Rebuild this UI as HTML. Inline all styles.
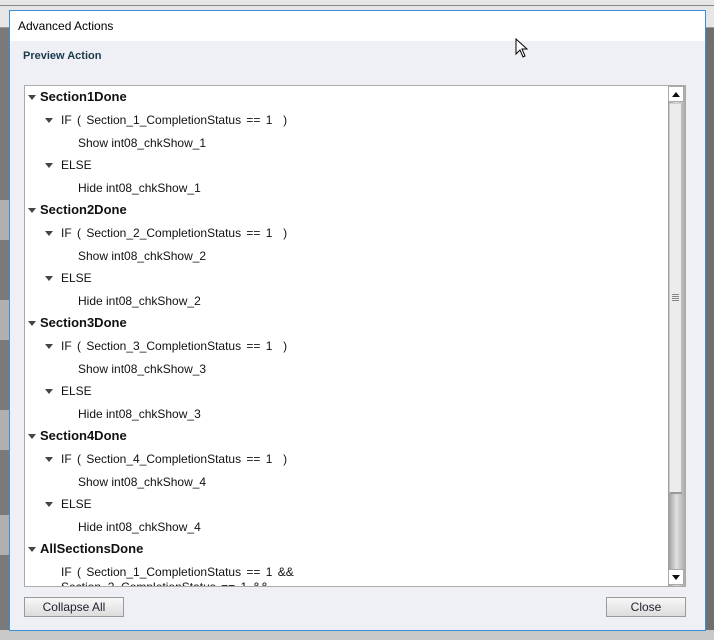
<!DOCTYPE html>
<html><head><style>
*{margin:0;padding:0;box-sizing:border-box}
body{width:714px;height:640px;position:relative;overflow:hidden;background:#8c8c8c;font-family:"Liberation Sans",sans-serif}
.a{position:absolute}
.t{position:absolute;font-size:12px;color:#111;white-space:nowrap;line-height:14px}
.w{word-spacing:2px}
.h{font-weight:bold;font-size:13px}
.tri{position:absolute;width:0;height:0;border-left:4px solid transparent;border-right:4px solid transparent;border-top:5px solid #444}
.btn{position:absolute;background:linear-gradient(#f8f8f8,#dcdcdc);border:1px solid #9a9a9a;font-size:12px;text-align:center;line-height:18px;color:#223}
</style></head><body>
<div class="a" style="left:0;top:0;width:714px;height:28px;background:#e6e6e6;border-bottom:1px solid #999"></div>
<div class="a" style="left:0;top:5px;width:714px;height:1px;background:#888"></div>
<div class="a" style="left:0;top:28px;width:10px;height:612px;background:#7a7a7a"></div>
<div class="a" style="left:0;top:200px;width:10px;height:40px;background:#b0b0b0"></div>
<div class="a" style="left:0;top:300px;width:10px;height:40px;background:#b0b0b0"></div>
<div class="a" style="left:0;top:410px;width:10px;height:40px;background:#b0b0b0"></div>
<div class="a" style="left:0;top:515px;width:10px;height:40px;background:#b0b0b0"></div>
<div class="a" style="left:705px;top:28px;width:9px;height:612px;background:#6f6f6f"></div>
<div class="a" style="left:0;top:630px;width:714px;height:10px;background:#c8c8c8"></div>
<div class="a" style="left:9px;top:10px;width:697px;height:621px;background:#eff0f5;border:1px solid #3a8fd8"></div>
<div class="a" style="left:10px;top:11px;width:695px;height:30px;background:#fff"></div>
<div class="t" style="left:18px;top:19px;font-size:12px;color:#000">Advanced Actions</div>
<div class="t" style="left:23px;top:49px;font-weight:bold;font-size:11px;color:#1a3a4a">Preview Action</div>
<div class="a" style="left:24px;top:85px;width:662px;height:502px;background:#fff;border:1px solid #aaa"></div>
<div class="a" style="left:668px;top:86px;width:17px;height:500px;background:linear-gradient(90deg,#999,#e0e0e0,#aaa)"></div>
<div class="a" style="left:668px;top:86px;width:16px;height:16px;background:#fff;border:1px solid #aaa"></div>
<div class="a" style="left:672px;top:92px;border-left:4px solid transparent;border-right:4px solid transparent;border-bottom:5px solid #111"></div>
<div class="a" style="left:669px;top:103px;width:14px;height:391px;background:#ececec;border:1px solid #ccc;border-right:2px solid #bbb;border-bottom:2px solid #999"></div>
<div class="a" style="left:672px;top:294px;width:7px;height:8px;background:repeating-linear-gradient(#888 0 1px,transparent 1px 2px)"></div>
<div class="a" style="left:668px;top:569px;width:16px;height:16px;background:#fff;border:1px solid #aaa"></div>
<div class="a" style="left:672px;top:575px;border-left:4px solid transparent;border-right:4px solid transparent;border-top:5px solid #111"></div>
<div class="a" style="left:25px;top:86px;width:642px;height:500px;overflow:hidden">
<div class="tri" style="left:3px;top:9px"></div><div class="t h" style="left:15px;top:4px">Section1Done</div>
<div class="tri" style="left:20px;top:32px"></div><div class="t w" style="left:36px;top:27px">IF ( Section_1_CompletionStatus == 1 &nbsp;)</div>
<div class="t" style="left:53px;top:50px">Show int08_chkShow_1</div>
<div class="tri" style="left:20px;top:77px"></div><div class="t" style="left:36px;top:72px">ELSE</div>
<div class="t" style="left:53px;top:95px">Hide int08_chkShow_1</div>

<div class="tri" style="left:3px;top:122px"></div><div class="t h" style="left:15px;top:117px">Section2Done</div>
<div class="tri" style="left:20px;top:145px"></div><div class="t w" style="left:36px;top:140px">IF ( Section_2_CompletionStatus == 1 &nbsp;)</div>
<div class="t" style="left:53px;top:163px">Show int08_chkShow_2</div>
<div class="tri" style="left:20px;top:190px"></div><div class="t" style="left:36px;top:185px">ELSE</div>
<div class="t" style="left:53px;top:208px">Hide int08_chkShow_2</div>

<div class="tri" style="left:3px;top:235px"></div><div class="t h" style="left:15px;top:230px">Section3Done</div>
<div class="tri" style="left:20px;top:258px"></div><div class="t w" style="left:36px;top:253px">IF ( Section_3_CompletionStatus == 1 &nbsp;)</div>
<div class="t" style="left:53px;top:276px">Show int08_chkShow_3</div>
<div class="tri" style="left:20px;top:303px"></div><div class="t" style="left:36px;top:298px">ELSE</div>
<div class="t" style="left:53px;top:321px">Hide int08_chkShow_3</div>

<div class="tri" style="left:3px;top:348px"></div><div class="t h" style="left:15px;top:343px">Section4Done</div>
<div class="tri" style="left:20px;top:371px"></div><div class="t w" style="left:36px;top:366px">IF ( Section_4_CompletionStatus == 1 &nbsp;)</div>
<div class="t" style="left:53px;top:389px">Show int08_chkShow_4</div>
<div class="tri" style="left:20px;top:416px"></div><div class="t" style="left:36px;top:411px">ELSE</div>
<div class="t" style="left:53px;top:434px">Hide int08_chkShow_4</div>

<div class="tri" style="left:3px;top:461px"></div><div class="t h" style="left:15px;top:456px">AllSectionsDone</div>
<div class="t w" style="left:36px;top:479px">IF ( Section_1_CompletionStatus == 1 &amp;&amp;</div>
<div class="t w" style="left:36px;top:494px">Section_2_CompletionStatus == 1 &amp;&amp;</div>
</div>
<div class="btn" style="left:24px;top:597px;width:100px;height:20px">Collapse All</div>
<div class="btn" style="left:606px;top:597px;width:80px;height:20px">Close</div>
<svg class="a" style="left:515px;top:38px" width="14" height="22"><path d="M1 1 L1 16 L5 12 L8 19 L10 18 L7 11 L12 11 Z" fill="#fff" stroke="#000" stroke-width="1"/></svg>
</body></html>
